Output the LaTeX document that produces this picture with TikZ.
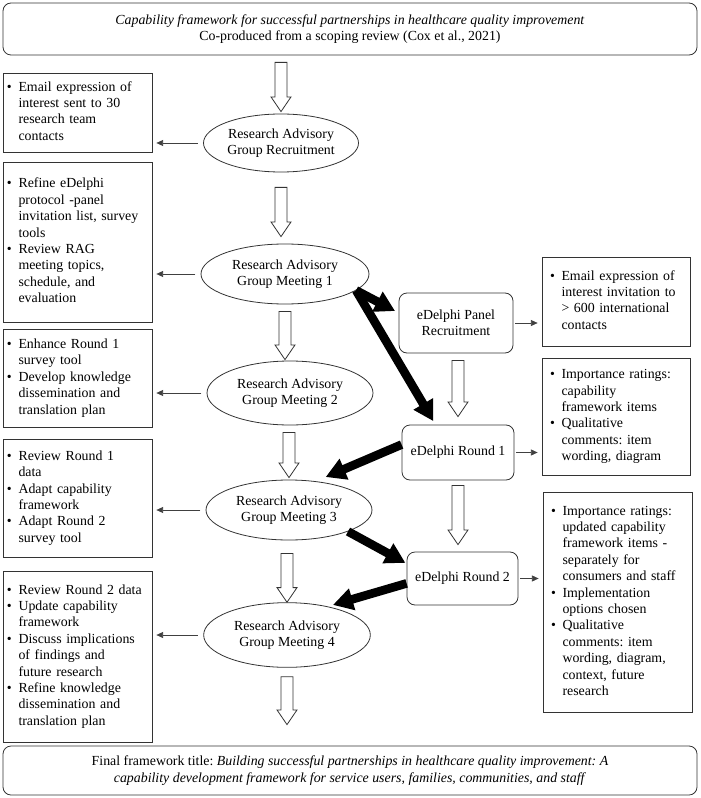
\documentclass[tikz,border=0pt]{standalone}
\usepackage{fontspec}
\setmainfont{Liberation Serif}
\usetikzlibrary{arrows.meta}
\usetikzlibrary{shapes.geometric}
\usetikzlibrary{calc}
\frenchspacing
\tikzset{box/.style = {draw = black!80, line width = 0.6pt, align = left, inner xsep = 3pt, inner ysep = 0pt}}
\tikzset{roundbox/.style = {draw = black!80, line width = 0.6pt, rounded corners = 6pt, align = center}}
\tikzset{oval/.style = {draw = black!80, line width = 0.6pt, ellipse, inner sep = 0, align = center}}
\tikzset{thin arrow/.style = {draw = black!75, line width = 0.5pt, -{Triangle[length = 5pt, width = 4.5pt]}}}
\tikzset{thick arrow/.style = {line width = 6.5pt, -{Triangle[length = 15pt, width = 16pt]}}}
\tikzset{hollow/.style = {draw = black!80, line width = 0.6pt, fill = white}}
\newcommand{\bulletlist}[1]{\begin{tabular}{@{}l@{\hspace{5pt}}l@{}}#1\end{tabular}}
\newcommand{\hollowarrow}[2]{%
  \draw [hollow] let \p1 = (#1), \p2 = (#2) in
    (\x1-4.5pt, \y1) -- (\x1+4.5pt, \y1) -- (\x1+4.5pt, \y2+11pt) -- (\x1+7.5pt, \y2+11pt)
    -- (\x1, \y2) -- (\x1-7.5pt, \y2+11pt) -- (\x1-4.5pt, \y2+11pt) -- cycle;}

\begin{document}
\begin{tikzpicture}[x = 0.75pt, y = -0.75pt,
    every node/.style = {font = \fontsize{10.4}{12.3}\selectfont}]
    \useasboundingbox (0, 0) rectangle (700, 798);

    \node [roundbox, minimum width = 520.5pt, minimum height = 39pt] (title) at (350, 29)
      {\textit{Capability framework for successful partnerships in healthcare quality improvement}\\
       Co-produced from a scoping review (Cox et al., 2021)};
    \node [roundbox, minimum width = 520.5pt, minimum height = 36.75pt] (final) at (350, 770.5)
      {Final framework title: \textit{Building successful partnerships in healthcare quality improvement: A}\\
       \textit{capability development framework for service users, families, communities, and staff}};

    % research advisory group
    \node [oval, minimum width = 116.25pt, minimum height = 43.5pt] (ragrec) at (281, 143) {Research Advisory\\Group Recruitment};
    \node [oval, minimum width = 126pt, minimum height = 45pt] (rag1) at (285, 274) {Research Advisory\\Group Meeting 1};
    \node [oval, minimum width = 124.5pt, minimum height = 48pt] (rag2) at (290, 393) {Research Advisory\\Group Meeting 2};
    \node [oval, minimum width = 124.5pt, minimum height = 45pt] (rag3) at (289, 510) {Research Advisory\\Group Meeting 3};
    \node [oval, minimum width = 125pt, minimum height = 48.5pt] (rag4) at (287, 635) {Research Advisory\\Group Meeting 4};

    \node [box, text width = 105.75pt, minimum height = 59.25pt] (ragrecbox) at (77.5, 112.5)
      {\bulletlist{\textbullet & Email expression of\\ & interest sent to 30\\ & research team\\ & contacts}};
    \node [box, text width = 105.75pt, minimum height = 120pt] (rag1box) at (77.5, 242)
      {\bulletlist{\textbullet & Refine eDelphi\\ & protocol -panel\\ & invitation list, survey\\ & tools\\
       \textbullet & Review RAG\\ & meeting topics,\\ & schedule, and\\ & evaluation}};
    \node [box, text width = 105.75pt, minimum height = 73.5pt] (rag2box) at (77.5, 378)
      {\bulletlist{\textbullet & Enhance Round 1\\ & survey tool\\
       \textbullet & Develop knowledge\\ & dissemination and\\ & translation plan}};
    \node [box, text width = 105.75pt, minimum height = 88.5pt] (rag3box) at (77.5, 498)
      {\bulletlist{\textbullet & Review Round 1\\ & data\\ \textbullet & Adapt capability\\ & framework\\
       \textbullet & Adapt Round 2\\ & survey tool}};
    \node [box, text width = 105.75pt, minimum height = 128.25pt] (rag4box) at (77.5, 656.5)
      {\bulletlist{\textbullet & Review Round 2 data\\ \textbullet & Update capability\\ & framework\\
       \textbullet & Discuss implications\\ & of findings and\\ & future research\\
       \textbullet & Refine knowledge\\ & dissemination and\\ & translation plan}};

    % eDelphi
    \node [roundbox, minimum width = 85.5pt, minimum height = 45pt] (panel) at (456, 323) {eDelphi Panel\\Recruitment};
    \node [roundbox, minimum width = 84pt, minimum height = 41.25pt] (round1) at (458, 452.5) {eDelphi Round 1};
    \node [roundbox, minimum width = 83.25pt, minimum height = 39.75pt] (round2) at (462.5, 578.5) {eDelphi Round 2};

    \node [box, inner xsep = 6pt, text width = 99pt, minimum height = 66.75pt] (panelbox) at (616, 301.5)
      {\bulletlist{\textbullet & Email expression of\\ & interest invitation to\\ & > 600 international\\ & contacts}};
    \node [box, inner xsep = 6pt, text width = 99pt, minimum height = 87.75pt] (round1box) at (616, 416.5)
      {\bulletlist{\textbullet & Importance ratings:\\ & capability\\ & framework items\\
       \textbullet & Qualitative\\ & comments: item\\ & wording, diagram}};
    \node [box, inner xsep = 6pt, text width = 99.75pt, minimum height = 165pt] (round2box) at (617.5, 602)
      {\bulletlist{\textbullet & Importance ratings:\\ & updated capability\\ & framework items -\\ & separately for\\ & consumers and staff\\
       \textbullet & Implementation\\ & options chosen\\
       \textbullet & Qualitative\\ & comments: item\\ & wording, diagram,\\ & context, future\\ & research}};

    \hollowarrow{$(ragrec.north |- title.south)+(0, 7)$}{$(ragrec.north)+(0, -2)$}
    \hollowarrow{$(ragrec.south)+(0, 15)$}{$(ragrec.south |- rag1.north)+(0, -7)$}
    \hollowarrow{$(rag1.south)+(0, 7)$}{$(rag1.south |- rag2.north)+(0, -1)$}
    \hollowarrow{$(rag3.north |- rag2.south)+(0, 7)$}{$(rag3.north)+(0, -2)$}
    \hollowarrow{$(rag4.north |- rag3.south)+(0, 13)$}{$(rag4.north)+(0, 0)$}
    \hollowarrow{$(rag4.south)+(0, 9)$}{$(rag4.south |- final.north)+(0, -21)$}
    \hollowarrow{$(round1.north |- panel.south)+(0, 7)$}{$(round1.north)+(0, -8)$}
    \hollowarrow{$(round1.south)+(0, 5)$}{$(round1.south |- round2.north)+(0, -7)$}

    \draw [thin arrow, shorten <= 4pt, shorten >= 3pt] (ragrec.west) -- (ragrec.west -| ragrecbox.east);
    \draw [thin arrow, shorten <= 4pt, shorten >= 3pt] (rag1.west) -- (rag1.west -| rag1box.east);
    \draw [thin arrow, shorten <= 4pt, shorten >= 3pt] (rag2.west) -- (rag2.west -| rag2box.east);
    \draw [thin arrow, shorten <= 4pt, shorten >= 3pt] (rag3.west) -- (rag3.west -| rag3box.east);
    \draw [thin arrow, shorten <= 4pt, shorten >= 3pt] (rag4.west) -- (rag4.west -| rag4box.east);
    \draw [thin arrow, shorten <= 1.5pt, shorten >= 3pt] (panel.east) -- (panel.east -| panelbox.west);
    \draw [thin arrow, shorten <= 1.5pt, shorten >= 3pt] (round1.east) -- (round1.east -| round1box.west);
    \draw [thin arrow, shorten <= 1.5pt, shorten >= 3pt] (round2.east) -- (round2.east -| round2box.west);

    \draw [thick arrow, shorten >= 3pt] (rag1.-13) -- (panel.170);
    \draw [thick arrow, shorten >= 3pt] (rag1.-13) -- (round1.129);
    \draw [thick arrow, shorten >= 8pt] (round1.172) -- (rag3.47);
    \draw [thick arrow, shorten >= 1pt] (rag3.-20) -- (round2.165);
    \draw [thick arrow, shorten >= 4pt] (round2.185) -- (rag4.35);
\end{tikzpicture}
\end{document}
